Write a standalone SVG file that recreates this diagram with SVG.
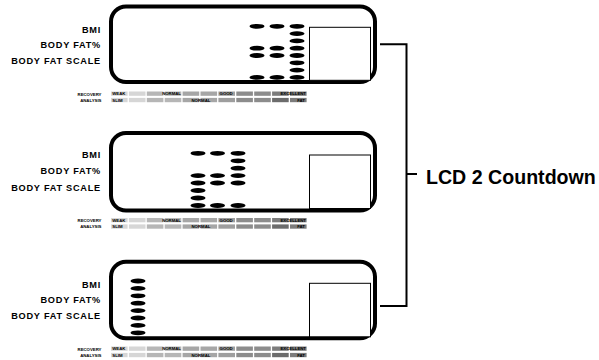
<svg xmlns="http://www.w3.org/2000/svg" xmlns:xlink="http://www.w3.org/1999/xlink" width="599" height="360" viewBox="0 0 599 360">
<style>
.frame{fill:#fff;stroke:#000;stroke-width:4}
.win{fill:#fff;stroke:#000;stroke-width:1}
.seg{fill:#000}
.lbl{font-family:"Liberation Sans",Arial,sans-serif;font-weight:bold;font-size:9.2px;letter-spacing:0.75px;text-anchor:end;fill:#000}
.tiny{font-family:"Liberation Sans",Arial,sans-serif;font-weight:bold;font-size:4.3px;fill:#000}
.tl{font-family:"Liberation Sans",Arial,sans-serif;font-weight:bold;font-size:4.3px;fill:#000;text-anchor:end}
.conn{fill:none;stroke:#000;stroke-width:2}
.title{font-family:"Liberation Sans",Arial,sans-serif;font-weight:bold;font-size:19.6px;fill:#000}
</style>
<defs>
<g id="scale">
<text class="tl" x="101.5" y="4">RECOVERY</text>
<text class="tl" x="101.5" y="10.3">ANALYSIS</text>
<rect x="111" y="0" width="16.6" height="4.3" fill="#d6d6d6"/>
<rect x="128.9" y="0" width="16.6" height="4.3" fill="#d6d6d6"/>
<rect x="146.8" y="0" width="16.6" height="4.3" fill="#b6b6b6"/>
<rect x="164.7" y="0" width="16.6" height="4.3" fill="#b6b6b6"/>
<rect x="182.6" y="0" width="16.6" height="4.3" fill="#a6a6a6"/>
<rect x="200.5" y="0" width="16.6" height="4.3" fill="#a6a6a6"/>
<rect x="218.4" y="0" width="16.6" height="4.3" fill="#9e9e9e"/>
<rect x="236.3" y="0" width="16.6" height="4.3" fill="#8c8c8c"/>
<rect x="254.2" y="0" width="16.6" height="4.3" fill="#8c8c8c"/>
<rect x="272.1" y="0" width="16.6" height="4.3" fill="#7c7c7c"/>
<rect x="290" y="0" width="16.6" height="4.3" fill="#7c7c7c"/>
<rect x="111" y="6.4" width="16.6" height="4.3" fill="#d6d6d6"/>
<rect x="128.9" y="6.4" width="16.6" height="4.3" fill="#d6d6d6"/>
<rect x="146.8" y="6.4" width="16.6" height="4.3" fill="#b6b6b6"/>
<rect x="164.7" y="6.4" width="16.6" height="4.3" fill="#b6b6b6"/>
<rect x="182.6" y="6.4" width="16.6" height="4.3" fill="#a6a6a6"/>
<rect x="200.5" y="6.4" width="16.6" height="4.3" fill="#a6a6a6"/>
<rect x="218.4" y="6.4" width="16.6" height="4.3" fill="#9e9e9e"/>
<rect x="236.3" y="6.4" width="16.6" height="4.3" fill="#8c8c8c"/>
<rect x="254.2" y="6.4" width="16.6" height="4.3" fill="#8c8c8c"/>
<rect x="272.1" y="6.4" width="16.6" height="4.3" fill="#6c6c6c"/>
<rect x="290" y="6.4" width="16.6" height="4.3" fill="#7c7c7c"/>
<text class="tiny" x="112.3" y="3.6">WEAK</text>
<text class="tl" x="181" y="3.6">NORMAL</text>
<text class="tiny" x="219.6" y="3.6">GOOD</text>
<text class="tl" x="306" y="3.6">EXCELLENT</text>
<text class="tiny" x="112.3" y="10">SLIM</text>
<text class="tiny" x="191.5" y="10">NORMAL</text>
<text class="tl" x="305" y="10">FAT</text>
</g>
</defs>

<g id="panel1">
<rect class="frame" x="111" y="6.5" width="264" height="75.5" rx="15"/>
<rect class="win" x="309.5" y="27.3" width="61" height="53"/>
<text class="lbl" x="101" y="32.7">BMI</text>
<text class="lbl" x="101" y="48.3">BODY FAT%</text>
<text class="lbl" x="101" y="64">BODY FAT SCALE</text>
<g class="seg">
<ellipse cx="257" cy="26.3" rx="7.5" ry="2.4"/><ellipse cx="277" cy="26.3" rx="7.5" ry="2.4"/><ellipse cx="297" cy="26.3" rx="7.5" ry="2.4"/>
<ellipse cx="297" cy="33.6" rx="7.5" ry="2.4"/>
<ellipse cx="297" cy="40.9" rx="7.5" ry="2.4"/>
<ellipse cx="257" cy="48.2" rx="7.5" ry="2.4"/><ellipse cx="277" cy="48.2" rx="7.5" ry="2.4"/><ellipse cx="297" cy="48.2" rx="7.5" ry="2.4"/>
<ellipse cx="257" cy="55.5" rx="7.5" ry="2.4"/><ellipse cx="277" cy="55.5" rx="7.5" ry="2.4"/><ellipse cx="297" cy="55.5" rx="7.5" ry="2.4"/>
<ellipse cx="297" cy="62.8" rx="7.5" ry="2.4"/>
<ellipse cx="297" cy="70.1" rx="7.5" ry="2.4"/>
<ellipse cx="257" cy="77.4" rx="7.5" ry="2.4"/><ellipse cx="277" cy="77.4" rx="7.5" ry="2.4"/><ellipse cx="297" cy="77.4" rx="7.5" ry="2.4"/>
</g>
<use xlink:href="#scale" href="#scale" transform="translate(0,91.5)"/>
</g>

<g id="panel2">
<rect class="frame" x="111" y="133" width="264" height="77.5" rx="15"/>
<rect class="win" x="309.5" y="155" width="61" height="53.5"/>
<text class="lbl" x="101" y="158.3">BMI</text>
<text class="lbl" x="101" y="174.3">BODY FAT%</text>
<text class="lbl" x="101" y="191">BODY FAT SCALE</text>
<g class="seg">
<ellipse cx="198" cy="153.3" rx="7.5" ry="2.4"/><ellipse cx="217.5" cy="153.3" rx="7.5" ry="2.4"/><ellipse cx="238" cy="153.3" rx="7.5" ry="2.4"/>
<ellipse cx="238" cy="160.8" rx="7.5" ry="2.4"/>
<ellipse cx="238" cy="168.2" rx="7.5" ry="2.4"/>
<ellipse cx="198" cy="175.6" rx="7.5" ry="2.4"/><ellipse cx="217.5" cy="175.6" rx="7.5" ry="2.4"/><ellipse cx="238" cy="175.6" rx="7.5" ry="2.4"/>
<ellipse cx="198" cy="183" rx="7.5" ry="2.4"/><ellipse cx="217.5" cy="183" rx="7.5" ry="2.4"/><ellipse cx="238" cy="183" rx="7.5" ry="2.4"/>
<ellipse cx="198" cy="190.5" rx="7.5" ry="2.4"/>
<ellipse cx="198" cy="198" rx="7.5" ry="2.4"/>
<ellipse cx="198" cy="205.5" rx="7.5" ry="2.4"/><ellipse cx="217.5" cy="205.5" rx="7.5" ry="2.4"/><ellipse cx="238" cy="205.5" rx="7.5" ry="2.4"/>
</g>
<use xlink:href="#scale" href="#scale" transform="translate(0,218)"/>
</g>

<g id="panel3">
<rect class="frame" x="111" y="261.7" width="264" height="76.6" rx="15"/>
<rect class="win" x="309.5" y="283.3" width="61" height="53.5"/>
<text class="lbl" x="101" y="287.7">BMI</text>
<text class="lbl" x="101" y="303.3">BODY FAT%</text>
<text class="lbl" x="101" y="318.7">BODY FAT SCALE</text>
<g class="seg">
<ellipse cx="138" cy="281" rx="7.5" ry="2.4"/>
<ellipse cx="138" cy="288.4" rx="7.5" ry="2.4"/>
<ellipse cx="138" cy="295.8" rx="7.5" ry="2.4"/>
<ellipse cx="138" cy="303.2" rx="7.5" ry="2.4"/>
<ellipse cx="138" cy="310.6" rx="7.5" ry="2.4"/>
<ellipse cx="138" cy="318" rx="7.5" ry="2.4"/>
<ellipse cx="138" cy="325.4" rx="7.5" ry="2.4"/>
<ellipse cx="138" cy="332.8" rx="7.5" ry="2.4"/>
</g>
<use xlink:href="#scale" href="#scale" transform="translate(0,346.5)"/>
</g>

<g id="connectors">
<polyline class="conn" points="380,44.3 406.5,44.3 406.5,306 380,306"/>
<line class="conn" x1="406.5" y1="174" x2="417" y2="174"/>
</g>

<g id="label">
<text class="title" x="426" y="183.5">LCD 2 Countdown</text>
</g>
</svg>
